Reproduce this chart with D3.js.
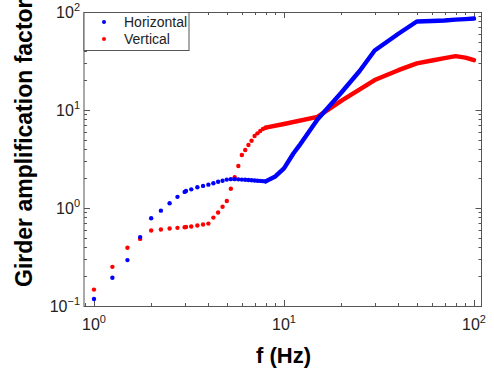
<!DOCTYPE html>
<html lang="en">

<head>
    <meta charset="UTF-8">
    <script src="https://d3js.org/d3.v7.min.js"></script>
    <title>Girder amplification factor</title>
    <style>
        body { margin: 0; background: #fff; }
        svg { font-family: "Liberation Sans", Arial, sans-serif; }
    </style>
</head>

<body>
    <svg id="chart" width="494" height="373"></svg>
    <script>

        // sampled points (0.25 Hz steps, low frequency part)
        const horizFreq = [1, 1.25, 1.5, 1.75, 2, 2.25, 2.5, 2.75, 3, 3.05, 3.25, 3.5, 3.75, 4, 4.25, 4.5, 4.75, 5,
            5.25, 5.5, 5.75, 6, 6.25, 6.5, 6.75, 7, 7.25, 7.5, 7.75, 8];
        const horizVal = [0.118, 0.194, 0.294, 0.505, 0.787, 0.94, 1.12, 1.30, 1.46, 1.49, 1.55, 1.63, 1.68, 1.73, 1.79, 1.85, 1.90, 1.95,
            1.97, 1.97, 1.96, 1.95, 1.94, 1.93, 1.92, 1.91, 1.90, 1.89, 1.88, 1.87];

        const vertFreq = [1, 1.25, 1.5, 1.75, 2, 2.25, 2.5, 2.75, 3, 3.05, 3.25, 3.5, 3.75, 4, 4.25, 4.5, 4.75, 5,
            5.25, 5.5, 5.75, 6, 6.25, 6.5, 6.75, 7, 7.25, 7.5, 7.75, 8];
        const vertVal = [0.147, 0.251, 0.393, 0.484, 0.589, 0.603, 0.617, 0.627, 0.637, 0.639, 0.647, 0.662, 0.678, 0.693, 0.798, 0.9, 1.03, 1.18,
            1.57, 2.06, 2.68, 3.47, 3.91, 4.40, 4.86, 5.42, 5.78, 6.1, 6.4, 6.6];

        // high frequency part: samples so dense they read as a solid line
        const horizDenseFreq = [8, 9, 10, 11.2, 12, 15, 20, 25, 30, 40, 50, 60, 70, 80, 90, 100];
        const horizDenseVal = [1.87, 2.1, 2.54, 3.6, 4.3, 8.0, 15, 25, 40.5, 60, 80, 81, 82, 83.5, 84.5, 85.7];

        const vertDenseFreq = [8, 10, 15, 20, 30, 40, 50, 60, 70, 80, 90, 100];
        const vertDenseVal = [6.6, 7.2, 8.5, 12.4, 20.2, 25.5, 29.9, 32, 33.8, 35.4, 34.2, 32.2];

        const xMajor = [1, 10, 100];
        const yMajor = [0.1, 1, 10, 100];

        const svg = d3.select("#chart");
        const plotLeft = 84, plotRight = 481.5, plotTop = 12, plotBottom = 306;
        const axisColor = "#555";

        var x = d3.scaleLog().domain([0.886, 109.5]).range([plotLeft, plotRight]);
        var y = d3.scaleLog().domain([0.1, 100]).range([plotBottom, plotTop]);

        // minor tick values (1..9 in each decade)
        function minors(scale) {
            var d = scale.domain();
            var out = [];
            for (var e = -2; e <= 3; e++) {
                for (var m = 1; m <= 9; m++) {
                    var v = m * Math.pow(10, e);
                    if (v >= d[0] * 0.999 && v <= d[1] * 1.001) out.push(v);
                }
            }
            return out;
        }

        function isMajor(list, v) {
            return list.some(function (m) { return Math.abs(m - v) / m < 1e-6; });
        }

        var g = svg.append("g").attr("stroke", axisColor).attr("stroke-width", 1);

        // ticks on all four sides, pointing inward
        minors(x).forEach(function (v) {
            var len = isMajor(xMajor, v) ? 6 : 3;
            var px = Math.round(x(v)) + 0.5;
            g.append("line").attr("x1", px).attr("x2", px).attr("y1", plotBottom).attr("y2", plotBottom - len);
            g.append("line").attr("x1", px).attr("x2", px).attr("y1", plotTop).attr("y2", plotTop + len);
        });
        minors(y).forEach(function (v) {
            var len = isMajor(yMajor, v) ? 6 : 3;
            var py = Math.round(y(v)) + 0.5;
            g.append("line").attr("y1", py).attr("y2", py).attr("x1", plotLeft).attr("x2", plotLeft + len);
            g.append("line").attr("y1", py).attr("y2", py).attr("x1", plotRight).attr("x2", plotRight - len);
        });

        g.append("rect")
            .attr("x", plotLeft).attr("y", plotTop + 0.5)
            .attr("width", plotRight - plotLeft).attr("height", plotBottom - plotTop)
            .attr("fill", "none");

        // tick labels
        svg.append("g").selectAll("text")
            .data(xMajor)
            .enter().append("text")
            .attr("x", function (d) { return x(d); })
            .attr("y", 330)
            .attr("text-anchor", "middle")
            .attr("font-size", 16)
            .attr("fill", "#222")
            .each(function (d) {
                var t = d3.select(this);
                t.append("tspan").text("10");
                t.append("tspan").attr("font-size", 11).attr("dy", -7).text(Math.round(Math.log10(d)));
            });

        svg.append("g").selectAll("text")
            .data(yMajor)
            .enter().append("text")
            .attr("x", 80)
            .attr("y", function (d) { return y(d) + 6; })
            .attr("text-anchor", "end")
            .attr("font-size", 16)
            .attr("fill", "#222")
            .each(function (d) {
                var t = d3.select(this);
                t.append("tspan").text("10");
                t.append("tspan").attr("font-size", 11).attr("dy", -7).text(Math.round(Math.log10(d)).toString().replace("-", "\u2212"));
            });

        // axis titles
        svg.append("text")
            .attr("x", 283.5).attr("y", 363)
            .attr("text-anchor", "middle")
            .attr("font-size", 22).attr("font-weight", "bold")
            .text("f (Hz)");

        svg.append("text")
            .attr("transform", "translate(32,287) rotate(-90)")
            .attr("text-anchor", "start")
            .attr("font-size", 23).attr("font-weight", "bold")
            .text("Girder amplification factor");

        // data
        var line = d3.line()
            .x(function (d) { return x(d[0]); })
            .y(function (d) { return y(d[1]); });

        function drawSeries(freq, val, denseFreq, denseVal, color) {
            svg.append("path")
                .datum(d3.zip(denseFreq, denseVal))
                .attr("d", line)
                .attr("fill", "none")
                .attr("stroke", color)
                .attr("stroke-width", 4.4)
                .attr("stroke-linejoin", "round")
                .attr("stroke-linecap", "round");

            svg.append("g").selectAll("circle")
                .data(d3.zip(freq, val))
                .enter().append("circle")
                .attr("cx", function (d) { return x(d[0]); })
                .attr("cy", function (d) { return y(d[1]); })
                .attr("r", 2.2)
                .attr("fill", color);
        }

        drawSeries(vertFreq, vertVal, vertDenseFreq, vertDenseVal, "#ff0000");
        drawSeries(horizFreq, horizVal, horizDenseFreq, horizDenseVal, "#0000ff");

        // legend
        var legend = svg.append("g");
        legend.append("rect")
            .attr("x", plotLeft).attr("y", plotTop + 0.5)
            .attr("width", 105).attr("height", 38)
            .attr("fill", "#fff").attr("stroke", axisColor);
        var items = [["Horizontal", "#0000ff"], ["Vertical", "#ff0000"]];
        items.forEach(function (it, i) {
            legend.append("circle")
                .attr("cx", 104).attr("cy", 22 + i * 17)
                .attr("r", 2).attr("fill", it[1]);
            legend.append("text")
                .attr("x", 124).attr("y", 27 + i * 17)
                .attr("font-size", 14).attr("fill", "#222")
                .text(it[0]);
        });

    </script>
</body>

</html>
